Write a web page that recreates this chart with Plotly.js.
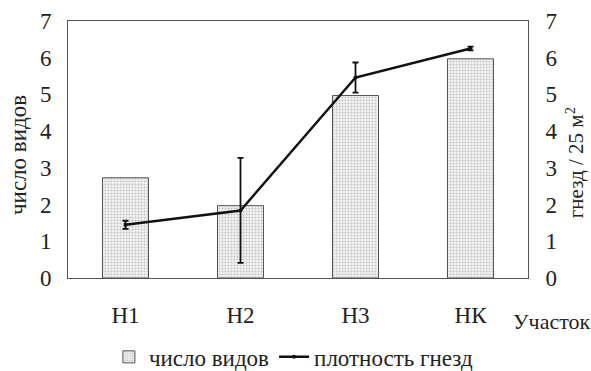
<!DOCTYPE html>
<html><head><meta charset="utf-8">
<script src="https://cdn.plot.ly/plotly-3.0.1.min.js"></script>
<style>html,body{margin:0;padding:0;background:#fff}</style>
</head><body>
<div id="chart" style="width:591px;height:371px"></div>
<script>
var categories = ["Н1", "Н2", "Н3", "НК"];
var speciesCount = [2.73, 1.97, 4.97, 5.97];
var nestDensity = [1.45, 1.84, 5.46, 6.25];
var nestDensityErr = [0.11, 1.43, 0.41, 0.05];
var yTickVals = [0, 1, 2, 3, 4, 5, 6, 7];

var fontFam = "Liberation Serif, serif";
var inkColor = "#222";

var traces = [
  {
    type: "bar", x: categories, y: speciesCount, name: "число видов",
    width: 0.4,
    marker: {
      color: "#ececec",
      line: {color: "#555", width: 1},
      pattern: {shape: ".", fgcolor: "#c4c4c4", bgcolor: "#f3f3f3", size: 3, solidity: 0.35}
    },
    yaxis: "y"
  },
  {
    type: "scatter", mode: "lines+markers", x: categories, y: nestDensity, name: "плотность гнезд",
    line: {color: "#111", width: 2.5},
    marker: {color: "#111", size: 4},
    error_y: {type: "data", array: nestDensityErr, visible: true, color: "#111", thickness: 1.8, width: 3},
    yaxis: "y2"
  }
];

var layout = {
  width: 591, height: 371,
  margin: {l: 68, r: 63, t: 21, b: 93, autoexpand: false},
  paper_bgcolor: "#fff", plot_bgcolor: "#fff",
  font: {family: fontFam, color: inkColor, size: 22},
  showlegend: true,
  legend: {orientation: "h", x: 0.49, xanchor: "center", y: -0.307, yanchor: "middle",
           font: {family: fontFam, size: 23, color: inkColor}, itemwidth: 30, tracegroupgap: 0},
  xaxis: {
    showline: true, linecolor: "#555", linewidth: 1, mirror: true,
    ticks: "", tickfont: {family: fontFam, size: 23, color: inkColor},
    ticklabelstandoff: 16, showgrid: false, zeroline: false, automargin: false
  },
  yaxis: {
    range: [0, 7], tickvals: yTickVals, showline: true, linecolor: "#555", linewidth: 1,
    ticks: "", showgrid: false, zeroline: false, ticklabelstandoff: 11, automargin: false,
    tickfont: {family: fontFam, size: 23, color: inkColor}
  },
  yaxis2: {
    range: [0, 7], tickvals: yTickVals, overlaying: "y", side: "right",
    showline: true, linecolor: "#555", linewidth: 1, automargin: false,
    ticks: "", showgrid: false, zeroline: false, ticklabelstandoff: 12,
    tickfont: {family: fontFam, size: 23, color: inkColor}
  },
  annotations: [
    {text: "число видов", xref: "paper", yref: "paper", x: -0.108, y: 0.48, textangle: -90,
     xanchor: "center", yanchor: "middle", showarrow: false, font: {family: fontFam, size: 23, color: inkColor}},
    {text: "гнезд / 25 м<sup>2</sup>", xref: "paper", yref: "paper", x: 1.102, y: 0.45, textangle: -90,
     xanchor: "center", yanchor: "middle", showarrow: false, font: {family: fontFam, size: 21, color: inkColor}},
    {text: "Участок", xref: "paper", yref: "paper", x: 1.05, y: -0.17, xanchor: "center", yanchor: "middle",
     showarrow: false, font: {family: fontFam, size: 22, color: inkColor}}
  ]
};

Plotly.newPlot("chart", traces, layout, {displayModeBar: false, staticPlot: true});
</script>
</body></html>
